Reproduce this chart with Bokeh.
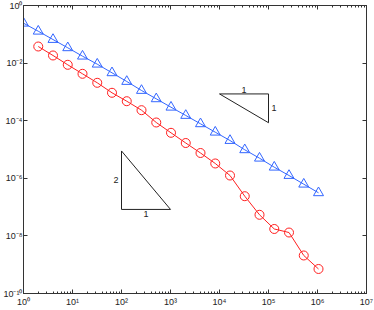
from bokeh.plotting import figure
from bokeh.models import LogAxis, FixedTicker, CustomJSTickFormatter
from bokeh.core.properties import value
from bokeh.embed import file_html
from bokeh.resources import INLINE

# ---- data ----
n_blue = [1, 2, 4, 8, 16, 32, 64, 128, 256, 512, 1024, 2048, 4096, 8192, 16384,
          32768, 65536, 131072, 262144, 524288, 1048576]
err_blue = [0.243, 0.128, 0.0659, 0.0340, 0.0174, 0.00917, 0.00460, 0.00230,
            0.00112, 5.75e-4, 2.94e-4, 1.52e-4, 7.80e-5, 3.99e-5, 2.05e-5,
            9.77e-6, 4.99e-6, 2.43e-6, 1.25e-6, 6.24e-7, 3.14e-7]
n_red = [2, 4, 8, 16, 32, 64, 128, 256, 512, 1024, 2048, 4096, 8192, 16384,
         32768, 65536, 131072, 262144, 524288, 1048576]
err_red = [0.0377, 0.0184, 0.00873, 0.00425, 0.00207, 9.31e-4, 4.75e-4, 2.32e-4,
           8.66e-5, 3.80e-5, 1.68e-5, 7.56e-6, 3.27e-6, 1.25e-6, 2.39e-7,
           5.41e-8, 1.74e-8, 1.31e-8, 2.09e-9, 7.10e-10]

x_major = [1, 10, 100, 1e3, 1e4, 1e5, 1e6, 1e7]
x_minor = [m * d for d in [1, 10, 100, 1e3, 1e4, 1e5, 1e6] for m in range(2, 10)]
y_major = [1e-10, 1e-8, 1e-6, 1e-4, 1e-2, 1]

# slope triangles (corners in data units) and their labels
tri1_x = [1e4, 1e5, 1e5, 1e4]
tri1_y = [8.5e-4, 8.5e-4, 8.5e-5, 8.5e-4]
tri1_lbl_top = (3.16e4, 8.5e-4, "1")
tri1_lbl_side = (1e5, 2.7e-4, "1")
tri2_x = [100, 100, 1000, 100]
tri2_y = [8.9e-6, 8.3e-8, 8.3e-8, 8.9e-6]
tri2_lbl_side = (100, 8.6e-7, "2")
tri2_lbl_bottom = (316, 8.3e-8, "1")

FONT = "Liberation Sans"

p = figure(width=374, height=310, x_axis_type="log", y_axis_type="log",
           x_range=(1, 1e7), y_range=(1e-10, 1),
           output_backend="svg", toolbar_location=None,
           min_border_left=4, min_border_right=8, min_border_top=5,
           min_border_bottom=17)
p.background_fill_color = "white"
p.border_fill_color = "white"
p.outline_line_color = "#333333"
p.xgrid.visible = False
p.ygrid.visible = False

fmt_code = """
const sup = {"-": "\\u207b", "0": "\\u2070", "1": "\\u00b9", "2": "\\u00b2", "3": "\\u00b3",
             "4": "\\u2074", "5": "\\u2075", "6": "\\u2076", "7": "\\u2077", "8": "\\u2078", "9": "\\u2079"};
const e = Math.round(Math.log10(tick));
let s = "";
for (const c of String(e)) { s += sup[c]; }
return "10" + s;
"""

def style(ax, minor=True):
    ax.axis_line_color = "#333333"
    ax.major_tick_line_color = "#333333"
    ax.minor_tick_line_color = "#333333" if minor else None
    ax.major_tick_in = 4
    ax.major_tick_out = 0
    ax.minor_tick_in = 2
    ax.minor_tick_out = 0
    ax.major_label_text_font = FONT
    ax.major_label_text_font_size = "9px"
    ax.major_label_text_color = "#222222"
    ax.major_label_standoff = 1

p.xaxis.ticker = FixedTicker(ticks=x_major, minor_ticks=x_minor)
p.yaxis.ticker = FixedTicker(ticks=y_major, minor_ticks=[])
p.xaxis.formatter = CustomJSTickFormatter(code=fmt_code)
p.yaxis.formatter = CustomJSTickFormatter(code=fmt_code)
style(p.xaxis[0])
style(p.yaxis[0], minor=False)
p.xaxis[0].major_label_standoff = 3

blank = "return '';"
top = LogAxis(ticker=FixedTicker(ticks=x_major, minor_ticks=x_minor),
              formatter=CustomJSTickFormatter(code=blank))
style(top)
top.major_label_standoff = 0
p.add_layout(top, "above")
right = LogAxis(ticker=FixedTicker(ticks=y_major, minor_ticks=[]),
                formatter=CustomJSTickFormatter(code=blank))
style(right, minor=False)
right.major_label_standoff = 0
p.add_layout(right, "right")

BLUE = "#3366ff"
RED = "#ff2020"

p.line(n_blue, err_blue, line_color=BLUE, line_width=1)
p.scatter(n_blue, err_blue, marker="triangle", size=10, fill_color=None,
          line_color=BLUE, line_width=1)
p.line(n_red, err_red, line_color=RED, line_width=1)
p.scatter(n_red, err_red, marker="circle", size=9, fill_color=None,
          line_color=RED, line_width=1)

p.line(tri1_x, tri1_y, line_color="#222222", line_width=1)
p.line(tri2_x, tri2_y, line_color="#222222", line_width=1)

def lbl(pt, **kw):
    p.text([pt[0]], [pt[1]], text=[pt[2]], text_font=value(FONT),
           text_font_size="9px", text_color="#222222", **kw)

lbl(tri1_lbl_top, text_align="center", text_baseline="bottom", y_offset=-1)
lbl(tri1_lbl_side, text_align="left", text_baseline="middle", x_offset=3)
lbl(tri2_lbl_side, text_align="right", text_baseline="middle", x_offset=-3)
lbl(tri2_lbl_bottom, text_align="center", text_baseline="top", y_offset=2)

open("out.html", "w").write(file_html(p, INLINE))
